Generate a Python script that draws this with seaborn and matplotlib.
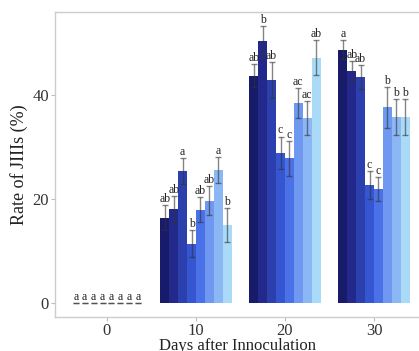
import numpy as np
import pandas as pd
import matplotlib
matplotlib.use("Agg")
import matplotlib.pyplot as plt
import seaborn as sns

# ---- data ----
days = [0, 10, 20, 30]
treatments = ["T1", "T2", "T3", "T4", "T5", "T6", "T7", "T8"]
means_d0 = [0, 0, 0, 0, 0, 0, 0, 0]
means_d10 = [16.4, 18.0, 25.4, 11.4, 17.9, 19.7, 25.6, 15.0]
means_d20 = [43.7, 50.4, 42.9, 28.9, 27.8, 38.4, 35.6, 47.2]
means_d30 = [48.7, 44.7, 43.4, 22.7, 21.9, 37.6, 35.8, 35.8]
err_d0 = [0, 0, 0, 0, 0, 0, 0, 0]
err_d10 = [2.4, 2.6, 2.5, 2.6, 2.4, 2.8, 2.5, 3.2]
err_d20 = [2.2, 2.9, 3.4, 3.1, 3.4, 2.9, 3.3, 3.4]
err_d30 = [1.8, 1.8, 2.3, 2.7, 2.3, 4.0, 3.4, 3.4]
letters_d0 = ["a", "a", "a", "a", "a", "a", "a", "a"]
letters_d10 = ["ab", "ab", "a", "b", "ab", "ab", "a", "b"]
letters_d20 = ["ab", "b", "ab", "c", "c", "ac", "ac", "ab"]
letters_d30 = ["a", "ab", "ab", "c", "c", "b", "b", "b"]
palette = ["#181a6a", "#22298b", "#2c40ad", "#3556d0", "#4b71e8",
           "#6f99f1", "#8cb7f5", "#a9dbf9"]

means = [means_d0, means_d10, means_d20, means_d30]
errs = [err_d0, err_d10, err_d20, err_d30]
letters = [letters_d0, letters_d10, letters_d20, letters_d30]

rows = []
for d, m, e, l in zip(days, means, errs, letters):
    for t, mv, ev, lv in zip(treatments, m, e, l):
        rows.append(dict(day=d, treatment=t, rate=mv, err=ev, letter=lv))
df = pd.DataFrame(rows)

# ---- plot ----
sns.set_style("white")
plt.rcParams["font.family"] = ["Liberation Serif", "DejaVu Serif"]

fig = plt.figure(figsize=(4.19, 3.51), dpi=100)
ax = fig.add_axes([55 / 419, 1 - 317 / 351, 1 - 55 / 419, (317 - 12) / 351])

sns.barplot(data=df, x="day", y="rate", hue="treatment", hue_order=treatments,
            palette=palette, native_scale=True, width=0.8, gap=0, dodge=True,
            errorbar=None, linewidth=0, edgecolor="none", saturation=1,
            legend=False, ax=ax)

nt = len(treatments)
bw = 10 * 0.8 / nt
for _, r in df.iterrows():
    i = treatments.index(r["treatment"])
    x = r["day"] + (i - (nt - 1) / 2) * bw
    ax.errorbar(x, r["rate"], yerr=r["err"], fmt="none", ecolor="#333333",
                alpha=0.6, elinewidth=1.0, capsize=2.4, capthick=1.0)
    ax.text(x, r["rate"] + r["err"] + 0.6, r["letter"], ha="center",
            va="baseline", fontsize=8.5, color="#222222")

ax.set_xlim(-5.84, 35.06)
ax.set_ylim(-2.69, 55.96)
ax.set_xticks([0, 10, 20, 30])
ax.set_yticks([0, 20, 40])
ax.tick_params(axis="both", labelsize=12, colors="#333333", length=3,
               width=0.8, direction="out", left=True, bottom=True, pad=1.5)
for lab in ax.get_xticklabels() + ax.get_yticklabels():
    lab.set_color("#333333")
ax.tick_params(axis="both", color="#bbbbbb")
ax.set_xlabel("Days after Innoculation", fontsize=12, color="#222222", labelpad=-1)
ax.set_ylabel("Rate of JIIIs (%)", fontsize=13, color="#222222", labelpad=3)
for s in ["left", "bottom", "top"]:
    ax.spines[s].set_color("#cccccc")
    ax.spines[s].set_linewidth(1.0)
ax.spines["right"].set_visible(False)
ax.grid(False)

fig.savefig("out.png", dpi=100)
